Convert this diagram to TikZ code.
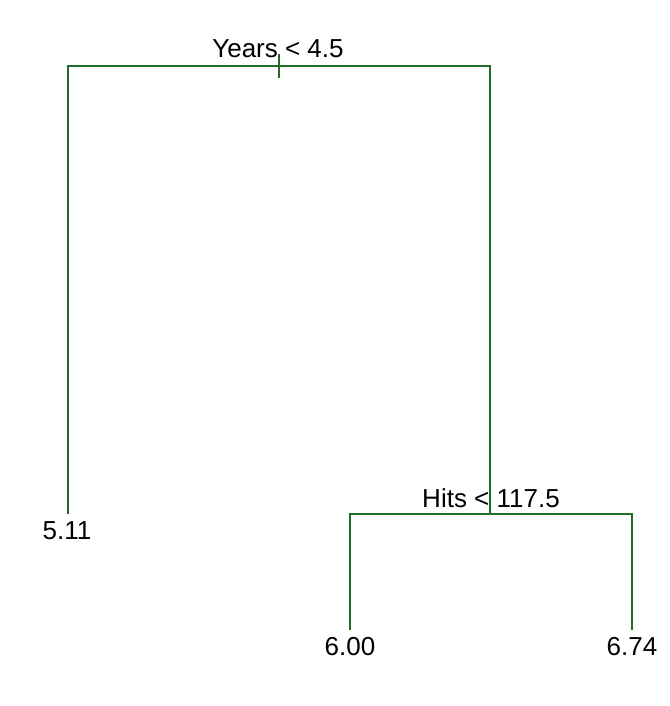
\documentclass[tikz,border=0pt]{standalone}
\usepackage{fontspec}
\setmainfont{Liberation Sans}
\usetikzlibrary{positioning}
\definecolor{treegreen}{HTML}{1E6E28}

\begin{document}
\begin{tikzpicture}[
  x=1pt, y=-1pt,
  branch/.style={treegreen, line width=1.5pt},
  lbl/.style={inner sep=0pt, anchor=base, font=\fontsize{26}{31}\selectfont}
]
  \useasboundingbox (0,0) rectangle (669,706);

  % split points and leaf ends
  \coordinate (rootL) at (68,66);
  \coordinate (rootR) at (490,66);
  \coordinate (rootT) at (279,54);
  \coordinate (rootB) at (279,78);
  \coordinate (leafA) at (68,514);
  \coordinate (hitsM) at (490,514);
  \coordinate (hitsL) at (350,514);
  \coordinate (hitsR) at (632,514);
  \coordinate (leafB) at (350,630);
  \coordinate (leafC) at (632,630);

  \draw[branch] (leafA) -- (rootL) -- (rootR) -- (hitsM);
  \draw[branch] (rootT) -- (rootB);
  \draw[branch] (leafB) -- (hitsL) -- (hitsR) -- (leafC);

  \node[lbl] (years) at (278,58) {Years < 4.5};
  \node[lbl] (hits) at (491,507) {Hits < 117.5};
  \node[lbl] (v511) at (67,539) {5.11};
  \node[lbl] (v600) at (350,655) {6.00};
  \node[lbl] (v674) at (632,655) {6.74};
\end{tikzpicture}
\end{document}
